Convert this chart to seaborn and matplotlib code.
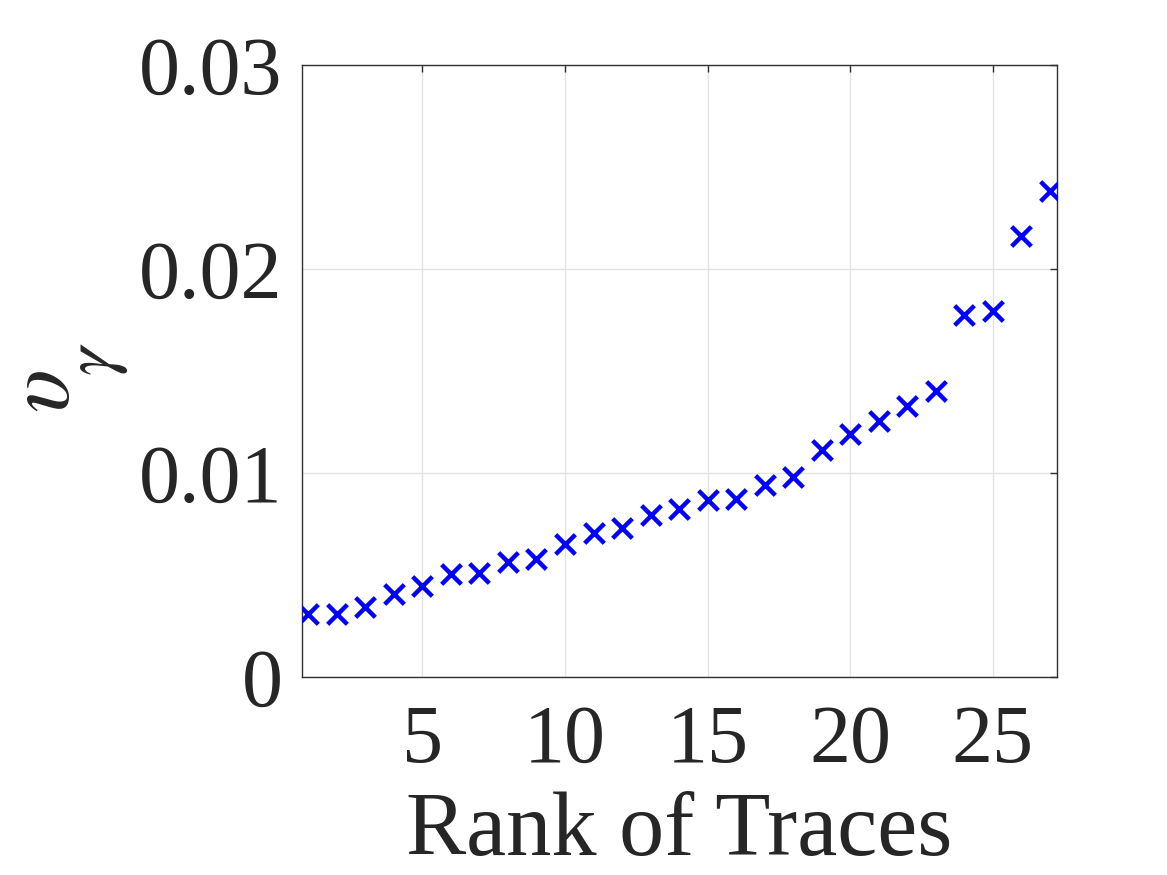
import matplotlib
matplotlib.use("Agg")
import matplotlib.pyplot as plt
import seaborn as sns
import pandas as pd

rank = list(range(1, 28))
upsilon = [0.00307, 0.00310, 0.00344, 0.00406, 0.00445, 0.00507, 0.00512,
           0.00566, 0.00576, 0.00651, 0.00706, 0.00728, 0.00793, 0.00822,
           0.00866, 0.00873, 0.00940, 0.00980, 0.01114, 0.01189, 0.01253,
           0.01326, 0.01401, 0.01776, 0.01796, 0.02160, 0.02383]
xticks = [5, 10, 15, 20, 25]
yticks = [0, 0.01, 0.02, 0.03]
yticklabels = ["0", "0.01", "0.02", "0.03"]

sns.set_theme(style="white")
plt.rcParams["font.family"] = ["Liberation Serif", "DejaVu Serif"]
plt.rcParams["mathtext.fontset"] = "stix"

df = pd.DataFrame({"rank": rank, "upsilon": upsilon})

fig = plt.figure(figsize=(11.67, 8.75), dpi=100)
ax = fig.add_axes([302/1167, 1 - 677/875, (1057-302)/1167, (677-65)/875])

sns.scatterplot(data=df, x="rank", y="upsilon", marker="x", color="#0000ff",
                s=200, linewidth=3.2, ax=ax, legend=False, zorder=3)

ax.set_xlim(0.78, 27.25)
ax.set_ylim(0, 0.03)
ax.set_xticks(xticks)
ax.set_yticks(yticks)
ax.set_yticklabels(yticklabels)
ax.grid(True, color="#e3e3e3", linewidth=1.0)
ax.set_axisbelow(True)
for sp in ax.spines.values():
    sp.set_visible(True)
    sp.set_color("#303030")
    sp.set_linewidth(1.0)
ax.tick_params(axis="both", direction="in", length=5, width=1.0, color="#303030",
               labelsize=59, labelcolor="#262626", top=True, right=True)
ax.tick_params(axis="x", pad=20)
ax.tick_params(axis="y", pad=14)
ax.set_xlabel("Rank of Traces", fontsize=65, color="#262626", labelpad=8)

# y label: upsilon with a large, deep gamma subscript
ax.set_ylabel(r"$\upsilon$", fontsize=66, color="#262626")
ax.yaxis.set_label_coords(-0.283, 0.467)
ax.text(-0.271, 0.520, r"$\gamma$", transform=ax.transAxes, rotation=90,
        ha="center", va="center", rotation_mode="anchor",
        fontsize=52, color="#262626")

fig.savefig("out.png", dpi=100)
